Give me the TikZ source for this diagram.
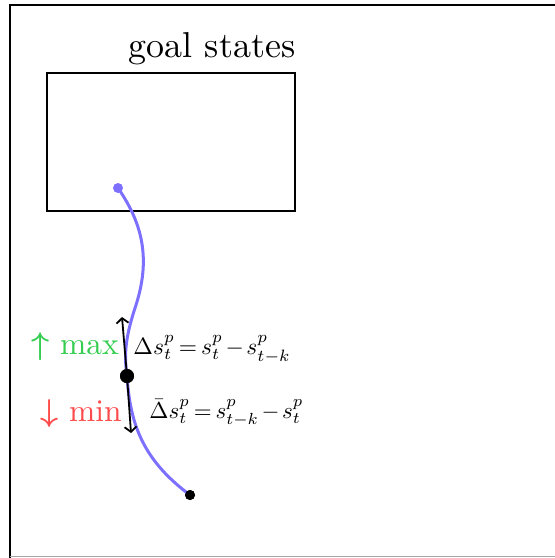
\documentclass[tikz,border=0pt]{standalone}
\usetikzlibrary{arrows.meta}
\definecolor{trajblue}{RGB}{125,112,255}
\definecolor{maxgreen}{RGB}{52,205,80}
\definecolor{minred}{RGB}{255,75,75}
\newcommand{\bmath}[1]{{\boldmath$#1$}}
\newcommand{\tightmath}[1]{{\thickmuskip=3mu\medmuskip=2mu$#1$}}
\begin{document}
\begin{tikzpicture}[x=1pt,y=-1pt,
  goalbox/.style={draw=black,line width=2pt},
  traj/.style={draw=trajblue,line width=3pt},
  bigdot/.style={circle,fill=black,inner sep=0pt,minimum size=14pt},
  smalldot/.style={circle,fill=black,inner sep=0pt,minimum size=10pt},
  startdot/.style={circle,fill=trajblue,inner sep=0pt,minimum size=10pt},
  darrow/.style={draw=black,line width=1.8pt,-{Straight Barb[length=5pt,width=12pt]}},
  lbl/.style={inner sep=0pt,anchor=base west,font=\fontsize{10}{12}\selectfont}]
\useasboundingbox (0,0) rectangle (555,558);
% frame
\draw[line width=2.5pt] (10,558) -- (10,5) -- (555,5);
\draw[gray!70,line width=1.2pt] (10,556.5) -- (555,556.5);
% goal box
\node[goalbox,minimum width=248pt,minimum height=138pt,anchor=north west,inner sep=0pt] (goal) at (46,72) {};
\node[lbl,anchor=base east,scale=3.6] (goaltxt) at (296,57) {goal states};
% trajectory
\node[startdot] (s) at (118,188) {};
\node[bigdot] (m) at (127,376) {};
\node[smalldot] (e) at (190,495) {};
\draw[traj] (s.center) .. controls (140,220) and (152,255) .. (136,305)
  .. controls (125,338) and (124,355) .. (m.center)
  .. controls (130,420) and (140,458) .. (e.center);
\node[bigdot] at (m) {};
\node[smalldot] at (e) {};
% arrows
\coordinate (up) at (122,317);
\coordinate (dn) at (131,433);
\draw[darrow] (m.center) -- (up);
\draw[darrow] (m.center) -- (dn);
% labels
\node[lbl,text=maxgreen,scale=3.15] (max) at (31,354) {\bmath{\uparrow} max};
\node[lbl,text=minred,scale=3.15] (min) at (40,421) {\bmath{\downarrow} min};
\node[lbl,scale=2.35] (d1) at (133,354) {\tightmath{\Delta s_t^p = s_t^p - s_{t-k}^p}};
\node[lbl,scale=2.3] (d2) at (149,418) {\tightmath{\bar{\Delta} s_t^p = s_{t-k}^p - s_t^p}};
\end{tikzpicture}
\end{document}
